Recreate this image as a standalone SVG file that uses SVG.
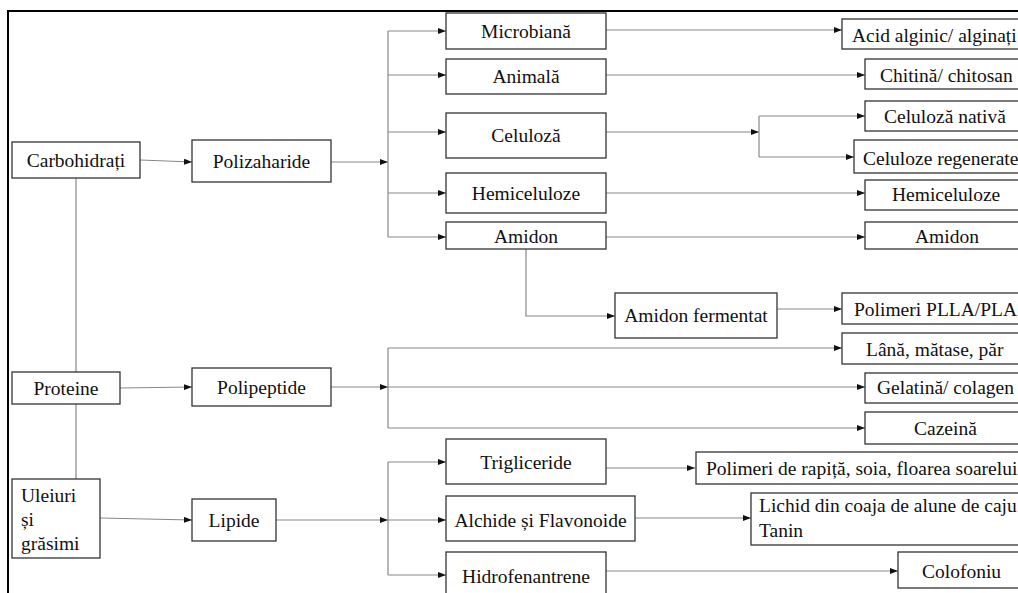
<svg xmlns="http://www.w3.org/2000/svg" width="1018" height="593" viewBox="0 0 1018 593">
<defs>
<marker id="ah" markerUnits="userSpaceOnUse" markerWidth="8" markerHeight="6" refX="8" refY="3" orient="auto">
<path d="M0,0 L8,3 L0,6 z" fill="#111"/>
</marker>
<style>
.b{fill:#fff;stroke:#333;stroke-width:1.3}
.t{font-family:"Liberation Serif","Times New Roman",serif;font-size:19.5px;fill:#111}
.m{text-anchor:middle}
.c{fill:none;stroke:#888;stroke-width:1.2}
.a{marker-end:url(#ah)}
</style>
</defs>
<rect width="1018" height="593" fill="#fff"/>
<g id="frame" stroke="#000" stroke-width="2" fill="none">
<path d="M8,593 V11 H1018"/>
</g>
<g id="connectors">
<path class="c a" d="M140,160 L192,162"/>
<path class="c" d="M76,178 V372 M76,404 V479"/>
<path class="c a" d="M120,388 L192,387"/>
<path class="c a" d="M100,518 L192,520"/>
<path class="c a" d="M331,162 H388"/>
<path class="c" d="M388,31 V237"/>
<path class="c a" d="M388,31 H446"/>
<path class="c a" d="M388,75 H446"/>
<path class="c a" d="M388,132 H446"/>
<path class="c a" d="M388,193 H446"/>
<path class="c a" d="M388,237 H446"/>
<path class="c a" d="M606,30 H842"/>
<path class="c a" d="M606,75 H865"/>
<path class="c a" d="M606,132 H759"/>
<path class="c" d="M759,116 V157"/>
<path class="c a" d="M759,116 H865"/>
<path class="c a" d="M759,157 H854"/>
<path class="c a" d="M606,193 H865"/>
<path class="c a" d="M606,237 H865"/>
<path class="c a" d="M526,249 V316 H615"/>
<path class="c a" d="M777,309 H842"/>
<path class="c a" d="M331,387 H388"/>
<path class="c" d="M388,348 V428"/>
<path class="c a" d="M388,348 H842"/>
<path class="c a" d="M388,387 H865"/>
<path class="c a" d="M388,428 H865"/>
<path class="c a" d="M276,520 H388"/>
<path class="c" d="M388,462 V575"/>
<path class="c a" d="M388,462 H446"/>
<path class="c a" d="M388,520 H446"/>
<path class="c a" d="M388,575 H446"/>
<path class="c a" d="M606,468 H695"/>
<path class="c a" d="M635,518 H751"/>
<path class="c a" d="M606,571 H898"/>
</g>
<g id="carbohidrati"><rect class="b" x="12" y="142" width="128" height="36"/><text class="t m" x="76" y="167">Carbohidrați</text></g>
<g id="polizaharide"><rect class="b" x="192" y="140" width="139" height="42"/><text class="t m" x="261.5" y="168">Polizaharide</text></g>
<g id="proteine"><rect class="b" x="12" y="372" width="108" height="32"/><text class="t m" x="66" y="395">Proteine</text></g>
<g id="polipeptide"><rect class="b" x="192" y="368" width="139" height="38"/><text class="t m" x="261.5" y="394">Polipeptide</text></g>
<g id="uleiuri"><rect class="b" x="12" y="479" width="88" height="79"/><text class="t" x="21" y="502">Uleiuri</text><text class="t" x="21" y="526">și</text><text class="t" x="21" y="550">grăsimi</text></g>
<g id="lipide"><rect class="b" x="192" y="499" width="84" height="42"/><text class="t m" x="234" y="527">Lipide</text></g>
<g id="microbiana"><rect class="b" x="446" y="13" width="160" height="36"/><text class="t m" x="526" y="38">Microbiană</text></g>
<g id="animala"><rect class="b" x="446" y="59" width="160" height="35"/><text class="t m" x="526" y="83">Animală</text></g>
<g id="celuloza"><rect class="b" x="446" y="113" width="160" height="45"/><text class="t m" x="526" y="142">Celuloză</text></g>
<g id="hemiceluloze1"><rect class="b" x="446" y="173" width="160" height="40"/><text class="t m" x="526" y="200">Hemiceluloze</text></g>
<g id="amidon1"><rect class="b" x="446" y="222" width="160" height="27"/><text class="t m" x="526" y="243">Amidon</text></g>
<g id="amidon-fermentat"><rect class="b" x="615" y="293" width="162" height="45"/><text class="t m" x="696" y="322">Amidon fermentat</text></g>
<g id="trigliceride"><rect class="b" x="446" y="439" width="160" height="45"/><text class="t m" x="526" y="469">Trigliceride</text></g>
<g id="alchide"><rect class="b" x="446" y="496" width="189" height="45"/><text class="t m" x="540.5" y="527">Alchide și Flavonoide</text></g>
<g id="hidrofenantrene"><rect class="b" x="446" y="552" width="160" height="50"/><text class="t m" x="526" y="583">Hidrofenantrene</text></g>
<g id="acid-alginic"><rect class="b" x="842" y="19" width="190" height="30"/><text class="t" x="852" y="42">Acid alginic/ alginați</text></g>
<g id="chitina"><rect class="b" x="865" y="59" width="165" height="30"/><text class="t" x="880" y="82">Chitină/ chitosan</text></g>
<g id="celuloza-nativa"><rect class="b" x="865" y="101" width="165" height="30"/><text class="t" x="884" y="123">Celuloză nativă</text></g>
<g id="celuloze-regenerate"><rect class="b" x="854" y="140" width="176" height="33"/><text class="t" x="863" y="165">Celuloze regenerate</text></g>
<g id="hemiceluloze2"><rect class="b" x="865" y="180" width="165" height="30"/><text class="t" x="892" y="201">Hemiceluloze</text></g>
<g id="amidon2"><rect class="b" x="865" y="222" width="165" height="27"/><text class="t" x="915" y="243">Amidon</text></g>
<g id="polimeri-plla"><rect class="b" x="842" y="293" width="190" height="31"/><text class="t" x="854" y="316">Polimeri PLLA/PLA</text></g>
<g id="lana"><rect class="b" x="842" y="333" width="190" height="31"/><text class="t" x="866" y="356">Lână, mătase, păr</text></g>
<g id="gelatina"><rect class="b" x="865" y="373" width="165" height="30"/><text class="t" x="877" y="394">Gelatină/ colagen</text></g>
<g id="cazeina"><rect class="b" x="865" y="412" width="165" height="32"/><text class="t" x="914" y="435">Cazeină</text></g>
<g id="polimeri-rapita"><rect class="b" x="696" y="452" width="335" height="32"/><text class="t" x="706" y="475">Polimeri de rapiță, soia, floarea soarelui</text></g>
<g id="lichid"><rect class="b" x="751" y="493" width="280" height="52"/><text class="t" x="759" y="512">Lichid din coaja de alune de caju</text><text class="t" x="759" y="537">Tanin</text></g>
<g id="colofoniu"><rect class="b" x="898" y="552" width="133" height="36"/><text class="t" x="922" y="578">Colofoniu</text></g>
</svg>
